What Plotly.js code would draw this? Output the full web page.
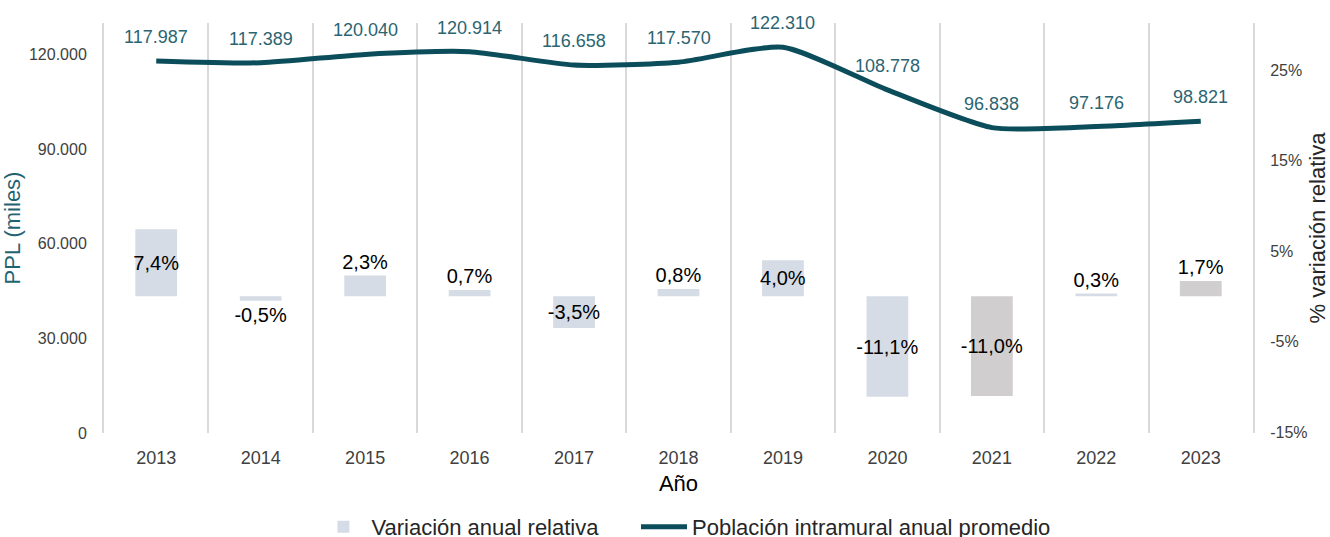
<!DOCTYPE html>
<html><head><meta charset="utf-8">
<script src="https://cdn.plot.ly/plotly-3.0.1.min.js"></script>
<style>html,body{margin:0;padding:0;background:#fff}#chart{width:1330px;height:537px}</style>
</head><body><div id="chart"></div>
<script>
const years = ['2013','2014','2015','2016','2017','2018','2019','2020','2021','2022','2023'];
const poblacion = [117987,117389,120040,120914,116658,117570,122310,108778,96838,97176,98821];
const variacion = [7.4,-0.5,2.3,0.7,-3.5,0.8,4.0,-11.1,-11.0,0.3,1.7];
const pctTicks = [-15,-5,5,15,25];
const barColors = ['#D6DCE5','#D6DCE5','#D6DCE5','#D6DCE5','#D6DCE5','#D6DCE5','#D6DCE5','#D6DCE5','#D0CECE','#D6DCE5','#D0CECE'];
const barTextPos = ['inside','outside','outside','outside','inside','outside','inside','inside','inside','outside','outside'];

const fmtThousands = v => String(v).replace(/\B(?=(\d{3})+(?!\d))/g, '.');
const FONT = 'Liberation Sans, Arial, sans-serif';
const TEAL = '#0B4D5B';

const barTrace = {
  type:'bar', x: years, y: variacion, yaxis:'y2', name:'Variación anual relativa', legend:'legend',
  marker:{color: barColors}, width:0.4,
  text: variacion.map(v => v.toFixed(1).replace('.', ',') + '%'),
  textposition: barTextPos, insidetextanchor:'middle', constraintext:'none', textangle:0,
  textfont:{family:FONT, size:20, color:'#000'}, cliponaxis:false, hoverinfo:'skip'
};
const lineTrace = {
  type:'scatter', mode:'lines', x: years, y: poblacion, yaxis:'y', legend:'legend2',
  name:'Población intramural anual promedio',
  line:{color:TEAL, width:5, shape:'spline', smoothing:0.6}, hoverinfo:'skip'
};

const annotations = years.map((yr,i) => ({
  x: i, y: poblacion[i], xref:'x', yref:'y', text: fmtThousands(poblacion[i]),
  showarrow:false, yshift:24, font:{family:FONT, size:18, color:'#2B6572'}
}));

const legendBase = {orientation:'h', yref:'container', y:0.058, yanchor:'top', xanchor:'left',
  font:{family:FONT, size:22, color:'#262626'}, itemwidth:46, bgcolor:'rgba(0,0,0,0)'};

const layout = {
  width:1330, height:537, paper_bgcolor:'#fff', plot_bgcolor:'#fff',
  margin:{l:104, r:77, t:23, b:104, autoexpand:false},
  separators: ',.',
  font:{family:FONT, color:'#404040'},
  bargap:0.6,
  xaxis:{type:'category', range:[-0.5,10.5], tickson:'boundaries', showgrid:true, gridcolor:'#D9D9D9', gridwidth:2,
    ticks:'', showline:false, zeroline:false, tickangle:0, ticklabelstandoff:12,
    tickfont:{family:FONT, size:18, color:'#404040'},
    title:{text:'Año', font:{family:FONT, size:22, color:'#000'}, standoff:8}},
  yaxis:{range:[0,130000], dtick:30000, tick0:0, tickformat:',d', showgrid:false, zeroline:false,
    showline:true, linecolor:'#D9D9D9', linewidth:2, ticks:'', ticklen:0, ticklabelstandoff:12,
    tickfont:{family:FONT, size:16, color:'#404040'},
    title:{text:'PPL (miles)', font:{family:FONT, size:22, color:'#1F6472'}, standoff:12}},
  yaxis2:{overlaying:'y', side:'right', range:[-15.1,30.2], tickmode:'array', tickvals:pctTicks,
    ticktext: pctTicks.map(v => v + '%'),
    showgrid:false, zeroline:false, showline:true, linecolor:'#D9D9D9', linewidth:2, ticks:'',
    ticklabelstandoff:12, tickfont:{family:FONT, size:16, color:'#404040'},
    title:{text:'% variación relativa', font:{family:FONT, size:22, color:'#262626'}, standoff:4}},
  showlegend:true,
  legend: Object.assign({}, legendBase, {x:0.184}),
  legend2: Object.assign({}, legendBase, {x:0.463}),
  annotations: annotations
};

Plotly.newPlot('chart', [barTrace, lineTrace], layout, {displayModeBar:false, staticPlot:true});
</script></body></html>
